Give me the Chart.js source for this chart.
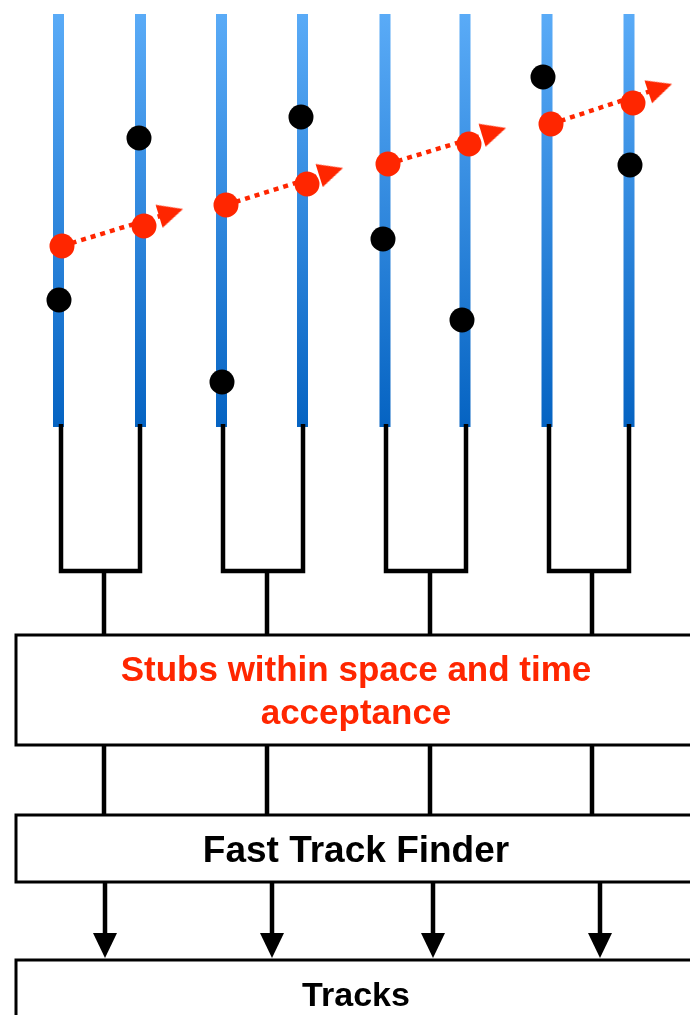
<!DOCTYPE html>
<html>
<head>
<meta charset="utf-8">
<script src="https://cdn.jsdelivr.net/npm/chart.js@4.4.1/dist/chart.umd.min.js"></script>
<style>
  html, body { margin: 0; padding: 0; background: #fff; overflow: hidden; }
  canvas { display: block; }
</style>
</head>
<body>
<canvas id="diagram" width="690" height="1015"></canvas>
<script>
// detector layers (strips) in pixel units
const stripX = [58.5, 140.5, 221.5, 302.5, 385, 465, 547, 629];
const stripTop = 14;
const stripBottom = 427;

// noise hits (black) and track stubs (red) on each strip
const noiseX = [59, 139, 222, 301, 383, 462, 543, 630];
const noiseY = [300, 138, 382, 117, 239, 320, 77, 165];
const stubX = [62, 144, 226, 307, 388, 469, 551, 633];
const stubY = [246, 226, 205, 184, 164, 144, 124, 103];

// track direction arrows, one per strip pair
const arrowTipX = [183, 343, 506, 672];
const arrowTipY = [209, 168, 128, 84];

// readout tree under each pair of strips
const legX = [61, 140, 223, 303, 386, 466, 549, 629];
const legTop = 424;
const legJoin = 571;
const mergeX = [104, 267, 430, 592];
const outputX = [105, 272, 433, 600];
const outputTipY = 958;

// processing boxes
const boxLeft = 16;
const boxRight = 696;
const boxTop = [635, 815, 960];
const boxBottom = [745, 882, 1027];
const boxLabels = [['Stubs within space and time', 'acceptance'], ['Fast Track Finder'], ['Tracks']];
const boxLabelColors = ['#ff2600', '#000000', '#000000'];
const boxLabelSize = [35, 37, 34];

const RED = '#ff2600';
const HEAD_LEN = 25;
const HEAD_W = 24;

// arrow head drawn once, used as a point style (points up, centred)
function makeHead(color) {
  const c = document.createElement('canvas');
  c.width = HEAD_W;
  c.height = HEAD_LEN;
  const g = c.getContext('2d');
  g.fillStyle = color;
  g.beginPath();
  g.moveTo(HEAD_W / 2, 0);
  g.lineTo(HEAD_W, HEAD_LEN);
  g.lineTo(0, HEAD_LEN);
  g.closePath();
  g.fill();
  return c;
}
const redHead = makeHead(RED);
const blackHead = makeHead('#000');

let datasets = [];

// blue strips with vertical gradient
stripX.forEach(x => {
  datasets.push({
    data: [{ x: x, y: stripTop }, { x: x, y: stripBottom }],
    showLine: true,
    pointRadius: 0,
    borderWidth: 11,
    borderCapStyle: 'butt',
    borderColor: (c) => {
      const chart = c.chart;
      if (!chart.chartArea) return '#2a86e0';
      const ys = chart.scales.y;
      const g = chart.ctx.createLinearGradient(0, ys.getPixelForValue(stripTop), 0, ys.getPixelForValue(stripBottom));
      g.addColorStop(0, '#5aabf7');
      g.addColorStop(1, '#0563c2');
      return g;
    },
    order: 6,
  });
});

// readout brackets
for (let p = 0; p < 4; p++) {
  const a = legX[p * 2], b = legX[p * 2 + 1];
  datasets.push({
    data: [{ x: a, y: legTop }, { x: a, y: legJoin }, { x: b, y: legJoin }, { x: b, y: legTop }],
    showLine: true, pointRadius: 0, borderWidth: 4.5, borderColor: '#000', borderJoinStyle: 'miter', order: 4,
  });
  datasets.push({
    data: [{ x: mergeX[p], y: legJoin }, { x: mergeX[p], y: boxTop[0] }],
    showLine: true, pointRadius: 0, borderWidth: 4.5, borderColor: '#000', order: 4,
  });
  datasets.push({
    data: [{ x: mergeX[p], y: boxBottom[0] }, { x: mergeX[p], y: boxTop[1] }],
    showLine: true, pointRadius: 0, borderWidth: 4.5, borderColor: '#000', order: 4,
  });
  datasets.push({
    data: [{ x: outputX[p], y: boxBottom[1] }, { x: outputX[p], y: outputTipY - HEAD_LEN / 2 }],
    showLine: true, pointRadius: 0, borderWidth: 4.5, borderColor: '#000', order: 4,
  });
}

// output arrow heads
datasets.push({
  data: outputX.map(x => ({ x: x, y: outputTipY - HEAD_LEN / 2 })),
  pointStyle: blackHead, rotation: 180, pointRadius: HEAD_LEN / 2,
  borderWidth: 0, order: 1,
});

// boxes (run off the right / bottom edge like the original)
boxTop.forEach((t, i) => {
  datasets.push({
    data: [{ x: boxRight + 20, y: t }, { x: boxLeft, y: t }, { x: boxLeft, y: boxBottom[i] }, { x: boxRight + 20, y: boxBottom[i] }],
    showLine: true, pointRadius: 0, borderWidth: 3, borderColor: '#000', borderJoinStyle: 'miter', order: 4,
  });
});

// red dotted track lines + heads
let headPts = [];
for (let p = 0; p < 4; p++) {
  const sx = stubX[p * 2], sy = stubY[p * 2];
  const dx = arrowTipX[p] - sx, dy = arrowTipY[p] - sy;
  const len = Math.sqrt(dx * dx + dy * dy);
  const cx = arrowTipX[p] - HEAD_LEN / 2 * dx / len, cy = arrowTipY[p] - HEAD_LEN / 2 * dy / len;
  datasets.push({
    data: [{ x: sx, y: sy }, { x: cx, y: cy }],
    showLine: true, pointRadius: 0, borderWidth: 4.5, borderColor: RED, borderDash: [5, 5], order: 3,
  });
  headPts.push({ x: cx, y: cy, rot: 90 + Math.atan2(dy, dx) * 180 / Math.PI });
}
datasets.push({
  data: headPts,
  pointStyle: redHead, pointRadius: HEAD_LEN / 2,
  rotation: (c) => c.raw ? c.raw.rot : 0,
  borderWidth: 0, order: 1,
});

datasets.push({
  data: noiseX.map((x, i) => ({ x: x, y: noiseY[i] })),
  pointRadius: 12.5, backgroundColor: '#000', borderWidth: 0, order: 2,
});
datasets.push({
  data: stubX.map((x, i) => ({ x: x, y: stubY[i] })),
  pointRadius: 12.5, backgroundColor: RED, borderWidth: 0, order: 1,
});

const boxText = {
  id: 'boxText',
  afterDatasetsDraw(chart) {
    const { ctx, scales: { x, y } } = chart;
    ctx.save();
    ctx.textAlign = 'center';
    ctx.textBaseline = 'alphabetic';
    boxLabels.forEach((lines, i) => {
      const cx = x.getPixelForValue((boxLeft + boxRight) / 2);
      const cy = y.getPixelForValue((boxTop[i] + boxBottom[i]) / 2);
      ctx.font = 'bold ' + boxLabelSize[i] + 'px "Liberation Sans", Arial, sans-serif';
      ctx.fillStyle = boxLabelColors[i];
      lines.forEach((t, j) => {
        const off = (j - (lines.length - 1) / 2) * 43;
        ctx.fillText(t, cx, cy + off + boxLabelSize[i] * 0.37);
      });
    });
    ctx.restore();
  }
};

new Chart(document.getElementById('diagram'), {
  type: 'scatter',
  data: { datasets: datasets },
  options: {
    responsive: false,
    devicePixelRatio: 1,
    animation: false,
    events: [],
    layout: { padding: 0, autoPadding: false },
    scales: {
      x: { type: 'linear', min: 0, max: 690, display: false },
      y: { type: 'linear', min: 0, max: 1015, reverse: true, display: false },
    },
    plugins: {
      legend: { display: false },
      tooltip: { enabled: false },
    },
  },
  plugins: [boxText],
});
</script>
</body>
</html>
